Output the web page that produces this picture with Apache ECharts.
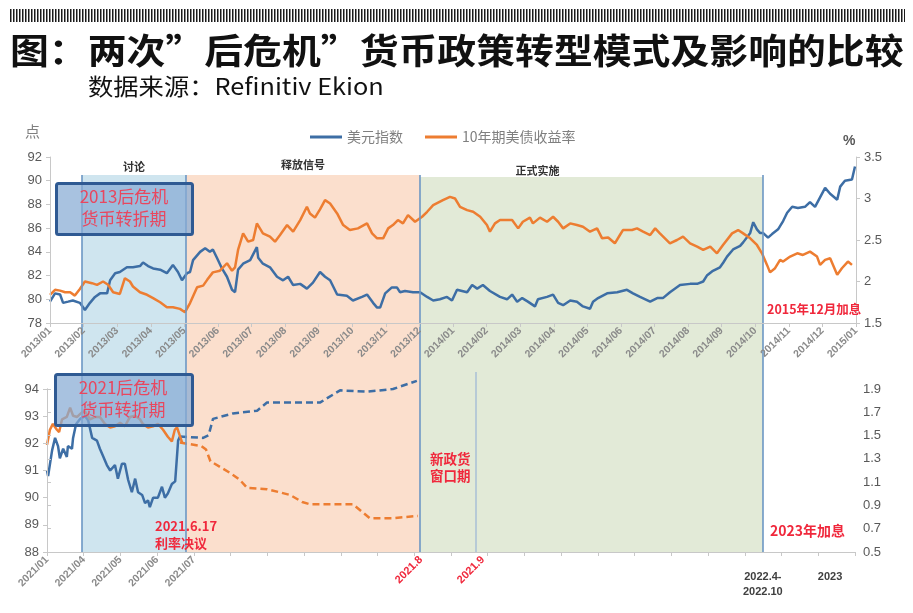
<!DOCTYPE html>
<html><head><meta charset="utf-8">
<script src="https://cdn.jsdelivr.net/npm/echarts@6/dist/echarts.min.js"></script>
<style>html,body{margin:0;padding:0;background:#fff}#c{width:913px;height:613px}</style>
</head><body><div id="c"></div>
<script>
// ---------- data ----------
const topMonthLabels = ['2013/01','2013/02','2013/03','2013/04','2013/05','2013/06','2013/07','2013/08','2013/09','2013/10','2013/11','2013/12',
  '2014/01','2014/02','2014/03','2014/04','2014/05','2014/06','2014/07','2014/08','2014/09','2014/10','2014/11','2014/12','2015/01'];
const dollar2013 = [[0,79.8],[0.15,80.5],[0.3,80.4],[0.39,79.7],[0.54,79.8],[0.68,79.9],[0.89,79.7],[1.04,79.1],[1.19,79.7],[1.34,80.2],[1.49,80.5],[1.7,80.5],[1.79,81.6],[1.94,82.2],[2.08,82.3],[2.29,82.7],[2.47,82.7],[2.68,82.8],[2.77,83.1],[2.92,82.8],[3.07,82.6],[3.28,82.5],[3.48,82.2],[3.66,82.9],[3.81,82.3],[3.93,81.6],[4.08,82.2],[4.17,82.3],[4.26,83.3],[4.47,84.0],[4.62,84.3],[4.76,84.0],[4.85,84.2],[4.97,83.5],[5.12,82.6],[5.27,81.9],[5.42,80.8],[5.51,80.6],[5.6,82.5],[5.75,83.0],[5.96,83.3],[6.16,84.4],[6.2,83.5],[6.34,83.0],[6.55,82.7],[6.76,81.9],[6.94,81.6],[7.09,81.9],[7.24,81.2],[7.45,81.3],[7.65,80.9],[7.83,81.4],[8.04,82.3],[8.19,81.9],[8.34,81.6],[8.55,80.4],[8.84,80.3],[9.02,79.9],[9.29,80.2],[9.44,80.4],[9.62,79.7],[9.74,79.3],[9.83,79.3],[9.98,80.5],[10.18,81.0],[10.33,81.0],[10.42,80.6],[10.57,80.7],[10.81,80.6],[11.02,80.6],[11.23,80.2],[11.41,79.9],[11.61,80.0],[11.82,80.2],[11.97,79.9],[12.12,80.8],[12.42,80.6],[12.57,81.2],[12.72,80.9],[12.89,81.2],[13.1,80.7],[13.4,80.2],[13.61,80.0],[13.76,80.4],[13.91,79.8],[14.06,80.1],[14.23,79.8],[14.44,79.4],[14.53,80.0],[14.8,80.2],[14.98,80.4],[15.13,79.7],[15.28,79.5],[15.49,79.9],[15.69,79.8],[15.87,79.4],[16.08,79.2],[16.17,79.8],[16.32,80.1],[16.59,80.5],[16.89,80.6],[17.18,80.8],[17.36,80.5],[17.57,80.2],[17.87,79.8],[18.08,80.1],[18.25,80.1],[18.46,80.6],[18.76,81.2],[19.06,81.3],[19.27,81.3],[19.45,81.5],[19.56,82.0],[19.74,82.4],[19.95,82.7],[20.05,83.1],[20.16,83.6],[20.34,84.2],[20.55,84.5],[20.64,84.8],[20.85,85.6],[20.94,86.5],[21.05,85.9],[21.14,85.6],[21.23,85.6],[21.38,85.2],[21.5,85.5],[21.68,85.9],[21.83,86.6],[21.95,87.3],[22.1,87.8],[22.27,87.7],[22.48,87.8],[22.63,88.2],[22.78,87.8],[22.93,88.6],[23.08,89.4],[23.23,88.9],[23.44,88.4],[23.53,89.5],[23.67,90.0],[23.88,90.1],[23.97,91.2]];
const yield2013 = [[0,1.84],[0.15,1.9],[0.3,1.89],[0.45,1.87],[0.6,1.87],[0.74,1.83],[0.89,1.91],[1.04,2.0],[1.25,1.98],[1.4,1.96],[1.58,2.0],[1.73,1.96],[1.88,1.87],[2.08,1.85],[2.23,2.04],[2.38,2.0],[2.47,1.94],[2.68,1.87],[2.89,1.84],[3.07,1.8],[3.28,1.75],[3.48,1.69],[3.66,1.69],[3.87,1.67],[4.02,1.63],[4.17,1.74],[4.38,1.93],[4.56,1.95],[4.68,2.02],[4.85,2.11],[5.06,2.13],[5.27,2.22],[5.42,2.13],[5.51,2.17],[5.6,2.38],[5.75,2.58],[5.9,2.48],[6.05,2.5],[6.16,2.7],[6.34,2.58],[6.55,2.54],[6.7,2.48],[6.85,2.56],[7.06,2.68],[7.24,2.6],[7.45,2.74],[7.65,2.9],[7.74,2.82],[7.89,2.77],[8.04,2.87],[8.19,2.98],[8.34,2.94],[8.55,2.82],[8.73,2.68],[8.93,2.62],[9.17,2.64],[9.44,2.7],[9.59,2.58],[9.74,2.52],[9.92,2.52],[10.07,2.64],[10.21,2.68],[10.36,2.74],[10.51,2.7],[10.66,2.8],[10.87,2.72],[11.08,2.78],[11.23,2.84],[11.41,2.92],[11.7,2.98],[11.91,3.02],[12.06,3.0],[12.21,2.9],[12.42,2.86],[12.6,2.84],[12.81,2.78],[13.01,2.68],[13.1,2.6],[13.25,2.7],[13.4,2.74],[13.61,2.74],[13.76,2.74],[13.94,2.64],[14.08,2.72],[14.29,2.77],[14.38,2.7],[14.59,2.77],[14.8,2.72],[14.98,2.78],[15.13,2.72],[15.28,2.64],[15.49,2.7],[15.69,2.68],[15.87,2.66],[16.08,2.6],[16.29,2.64],[16.44,2.52],[16.62,2.53],[16.82,2.46],[16.97,2.56],[17.06,2.62],[17.33,2.62],[17.48,2.64],[17.66,2.6],[17.87,2.56],[18.02,2.64],[18.16,2.58],[18.46,2.46],[18.67,2.5],[18.85,2.54],[19.06,2.46],[19.27,2.42],[19.45,2.38],[19.66,2.42],[19.86,2.34],[20.04,2.44],[20.31,2.58],[20.49,2.62],[20.64,2.58],[20.85,2.52],[21.05,2.44],[21.2,2.34],[21.35,2.2],[21.44,2.11],[21.59,2.16],[21.74,2.26],[21.83,2.24],[22.04,2.3],[22.25,2.34],[22.42,2.32],[22.63,2.36],[22.84,2.3],[22.93,2.2],[23.08,2.26],[23.23,2.28],[23.44,2.08],[23.58,2.16],[23.76,2.24],[23.88,2.2]];

const dollar2021 = [[0,91.0],[0.03,90.8],[0.14,91.75],[0.22,92.2],[0.3,91.9],[0.35,91.45],[0.44,91.8],[0.54,91.5],[0.57,91.9],[0.68,91.8],[0.71,92.2],[0.79,92.7],[0.9,92.9],[1.04,93.0],[1.12,92.85],[1.23,92.2],[1.36,92.1],[1.44,91.8],[1.52,91.55],[1.63,91.2],[1.72,91.0],[1.85,91.2],[1.93,90.7],[2.04,91.25],[2.12,91.25],[2.21,90.65],[2.31,90.2],[2.4,90.7],[2.48,90.2],[2.59,90.1],[2.67,89.8],[2.75,89.9],[2.8,89.65],[2.89,90.0],[3.02,90.0],[3.13,90.4],[3.21,90.0],[3.29,90.15],[3.4,90.5],[3.49,90.6],[3.57,92.1],[3.62,92.25]];
const dollar2021Proj = [[3.62,92.25],[4.25,92.2],[4.4,92.3],[4.52,92.9],[5.06,93.1],[5.72,93.2],[5.99,93.5],[7.43,93.5],[7.98,93.95],[8.71,93.9],[9.42,94.0],[10.07,94.3]];
const yield2021 = [[0,1.42],[0.08,1.55],[0.16,1.6],[0.27,1.55],[0.33,1.53],[0.41,1.64],[0.54,1.66],[0.63,1.74],[0.71,1.67],[0.82,1.66],[0.95,1.7],[1.03,1.71],[1.17,1.64],[1.31,1.66],[1.44,1.66],[1.58,1.6],[1.72,1.57],[1.85,1.58],[1.99,1.61],[2.12,1.58],[2.26,1.66],[2.4,1.67],[2.53,1.64],[2.61,1.6],[2.75,1.57],[2.89,1.58],[3.02,1.6],[3.16,1.55],[3.29,1.49],[3.4,1.45],[3.48,1.55],[3.54,1.57],[3.68,1.44]];
const yield2021Proj = [[3.62,1.44],[4.2,1.41],[4.33,1.38],[4.45,1.28],[4.98,1.18],[5.25,1.12],[5.45,1.05],[5.99,1.04],[6.62,0.99],[6.95,0.93],[7.16,0.91],[8.33,0.91],[8.6,0.84],[8.79,0.79],[9.42,0.79],[10.1,0.81]];

const bottomTickLabels = ['2021/01','2021/04','2021/05','2021/06','2021/07'];
const bottomRedLabels = [[10.18,'2021.8'],[11.87,'2021.9']];
const bottomFlatLabels = [[19.49,'2022.4-\n2022.10'],[21.32,'2023']];
// phases in top-axis months: [label, start, end, color]
const phases = [['讨论',0.95,4.05,'#cfe5ef'],['释放信号',4.05,11.02,'#fbdfcd'],['正式实施',11.02,21.23,'#e2ead7']];
const phaseEdges = [0.95,4.05,11.02,21.23];
const window2021 = 11.68;

// ---------- chart ----------
const FONT = "'Noto Sans CJK SC','Liberation Sans',sans-serif";
const BLUE = '#3d6ea5', ORANGE = '#ed7d31', RED = '#f0283c', GRAY = '#595959', AXIS = '#c8c8c8';
const chart = echarts.init(document.getElementById('c'), null, {renderer:'canvas'});

const pc = document.createElement('canvas'); pc.width = 3; pc.height = 14;
const pg = pc.getContext('2d'); pg.fillStyle = '#1a1a1a'; pg.fillRect(0,0,1.5,14);

const yLabel = {color: GRAY, fontSize: 13, fontFamily: "'Liberation Sans',sans-serif"};
const axLine = {show: true, lineStyle: {color: AXIS}};
const axTick = {show: true, length: 4, lineStyle: {color: AXIS}};

const option = {
  backgroundColor: '#fff',
  animation: false,
  textStyle: {fontFamily: FONT},
  legend: {
    left: 305, top: 125, icon: 'rect', itemWidth: 32, itemHeight: 3, itemGap: 22,
    selectedMode: false,
    data: ['美元指数','10年期美债收益率'],
    textStyle: {color: '#7f7f7f', fontSize: 14, fontFamily: FONT}
  },
  grid: [
    {left: 50, right: 57, top: 157, height: 166},
    {left: 47, right: 58, top: 389, height: 163}
  ],
  xAxis: [
    {type: 'value', gridIndex: 0, min: 0, max: 24, interval: 1, z: 5,
     axisLine: axLine, axisTick: axTick, splitLine: {show: false},
     axisLabel: {rotate: 45, margin: 6, fontSize: 10.5, fontWeight: 'bold', color: '#8a8a8a',
       fontFamily: "'Liberation Sans',sans-serif", formatter: v => topMonthLabels[v] || ''}},
    {type: 'value', gridIndex: 1, min: 0, max: 22, interval: 1, z: 5,
     axisLine: axLine, axisTick: axTick, splitLine: {show: false},
     axisLabel: {rotate: 45, margin: 6, fontSize: 10.5, fontWeight: 'bold', color: '#8a8a8a',
       fontFamily: "'Liberation Sans',sans-serif",
       customValues: [0,1,2,3,4].concat(bottomRedLabels.map(d => d[0])),
       formatter: v => {
         const r = bottomRedLabels.find(d => Math.abs(d[0]-v) < 1e-6);
         if (r) return '{r|' + r[1] + '}';
         return bottomTickLabels[Math.round(v)] || '';
       },
       rich: {r: {color: RED, fontWeight: 'bold', fontSize: 11, fontFamily: "'Liberation Sans',sans-serif"}}}},
    {type: 'value', gridIndex: 1, min: 0, max: 22, position: 'bottom', z: 5,
     axisLine: {show: false}, axisTick: {show: false}, splitLine: {show: false},
     axisLabel: {margin: 17, fontSize: 11, lineHeight: 15, fontWeight: 'bold', color: '#404040',
       fontFamily: "'Liberation Sans',sans-serif",
       customValues: bottomFlatLabels.map(d => d[0]),
       formatter: v => { const r = bottomFlatLabels.find(d => Math.abs(d[0]-v) < 1e-6); return r ? r[1] : ''; }}}
  ],
  yAxis: [
    {type: 'value', gridIndex: 0, min: 78, max: 92, interval: 2, position: 'left', z: 5,
     axisLine: axLine, axisTick: axTick, splitLine: {show: false}, axisLabel: yLabel},
    {type: 'value', gridIndex: 0, min: 1.5, max: 3.5, interval: 0.5, position: 'right', z: 5,
     axisLine: axLine, axisTick: axTick, splitLine: {show: false}, axisLabel: yLabel},
    {type: 'value', gridIndex: 1, min: 88, max: 94, interval: 1, position: 'left', z: 5,
     axisLine: axLine, axisTick: axTick, splitLine: {show: false}, axisLabel: yLabel},
    {type: 'value', gridIndex: 1, min: 0.5, max: 1.9, interval: 0.2, position: 'right', z: 5,
     axisLine: axLine, axisTick: axTick, splitLine: {show: false}, axisLabel: yLabel}
  ],
  series: [
    {name: '美元指数', type: 'line', xAxisIndex: 0, yAxisIndex: 0, data: dollar2013,
     showSymbol: false, lineStyle: {color: BLUE, width: 2.5}, itemStyle: {color: BLUE},
     markArea: {silent: true,
       label: {show: true, position: 'top', distance: 3, color: '#333', fontSize: 11, fontWeight: 'bold', fontFamily: FONT},
       data: phases.map((p, i) => [
         {name: p[0], xAxis: p[1], y: i === 2 ? 177 : 175, itemStyle: {color: p[3]},
          label: i === 2 ? {offset: [-54, 2]} : (i === 1 ? {offset: [0, -2]} : {})},
         {xAxis: p[2], y: 552}
       ])},
     markLine: {silent: true, symbol: 'none', label: {show: false},
       lineStyle: {color: '#6c97c4', width: 1.6, type: 'solid'},
       data: phaseEdges.map(e => [{xAxis: e, y: 175}, {xAxis: e, y: 552}])}
    },
    {name: '10年期美债收益率', type: 'line', xAxisIndex: 0, yAxisIndex: 1, data: yield2013,
     showSymbol: false, lineStyle: {color: ORANGE, width: 2.5}, itemStyle: {color: ORANGE}},
    {name: '美元指数2021', type: 'line', xAxisIndex: 1, yAxisIndex: 2, data: dollar2021,
     showSymbol: false, lineStyle: {color: BLUE, width: 2.5}, itemStyle: {color: BLUE}},
    {name: '美元指数2021预期', type: 'line', xAxisIndex: 1, yAxisIndex: 2, data: dollar2021Proj, clip: false,
     showSymbol: false, lineStyle: {color: BLUE, width: 2.5, type: [7, 4]}, itemStyle: {color: BLUE},
     markLine: {silent: true, symbol: 'none', label: {show: false},
       lineStyle: {color: '#a8bfd6', width: 1.5, type: 'solid'},
       data: [[{xAxis: window2021, y: 372}, {xAxis: window2021, y: 552}]]}},
    {name: '10年期美债收益率2021', type: 'line', xAxisIndex: 1, yAxisIndex: 3, data: yield2021,
     showSymbol: false, lineStyle: {color: ORANGE, width: 2.5}, itemStyle: {color: ORANGE}},
    {name: '10年期美债收益率2021预期', type: 'line', xAxisIndex: 1, yAxisIndex: 3, data: yield2021Proj,
     showSymbol: false, lineStyle: {color: ORANGE, width: 2.5, type: [7, 4]}, itemStyle: {color: ORANGE}}
  ],
  graphic: [
    {type: 'rect', left: 10, top: 9, z: 10, shape: {width: 895, height: 13}, style: {fill: {image: pc, repeat: 'repeat'}}},
    {type: 'text', x: 10, y: 33, scaleX: 1.11, z: 10, style: {text: '图：两次”后危机”货币政策转型模式及影响的比较', fill: '#111', font: "bold 35px " + FONT}},
    {type: 'text', x: 88, y: 75, scaleX: 1.1, z: 10, style: {text: '数据来源：Refinitiv Ekion', fill: '#111', font: "23px " + FONT}},
    {type: 'text', left: 25, top: 124, z: 10, style: {text: '点', fill: '#7f7f7f', font: "15px " + FONT}},
    {type: 'text', left: 843, top: 134, z: 10, style: {text: '%', fill: GRAY, font: "bold 14px 'Liberation Sans',sans-serif"}},
    {type: 'rect', left: 55, top: 182, z: 20, shape: {width: 136, height: 51, r: 2},
     style: {fill: 'rgba(135,170,212,0.72)', stroke: '#2f5a93', lineWidth: 3}},
    {type: 'text', x: 124, y: 208, z: 21, style: {text: '2013后危机\n货币转折期', fill: '#e8475f', font: "17px " + FONT, align: 'center', verticalAlign: 'middle', lineHeight: 22}},
    {type: 'rect', left: 54, top: 373, z: 20, shape: {width: 137, height: 51, r: 2},
     style: {fill: 'rgba(135,170,212,0.72)', stroke: '#2f5a93', lineWidth: 3}},
    {type: 'text', x: 123, y: 399, z: 21, style: {text: '2021后危机\n货币转折期', fill: '#e8475f', font: "17px " + FONT, align: 'center', verticalAlign: 'middle', lineHeight: 22}},
    {type: 'text', left: 767, top: 303, z: 21, style: {text: '2015年12月加息', fill: RED, font: "bold 12.5px " + FONT}},
    {type: 'text', left: 770, top: 524, z: 21, style: {text: '2023年加息', fill: RED, font: "bold 14px " + FONT}},
    {type: 'text', left: 155, top: 518, z: 21, style: {text: '2021.6.17\n利率决议', fill: RED, font: "bold 13px " + FONT, lineHeight: 17}},
    {type: 'text', left: 430, top: 450, z: 21, style: {text: '新政货\n窗口期', fill: RED, font: "bold 13.5px " + FONT, lineHeight: 17}}
  ]
};
chart.setOption(option);
</script></body></html>
